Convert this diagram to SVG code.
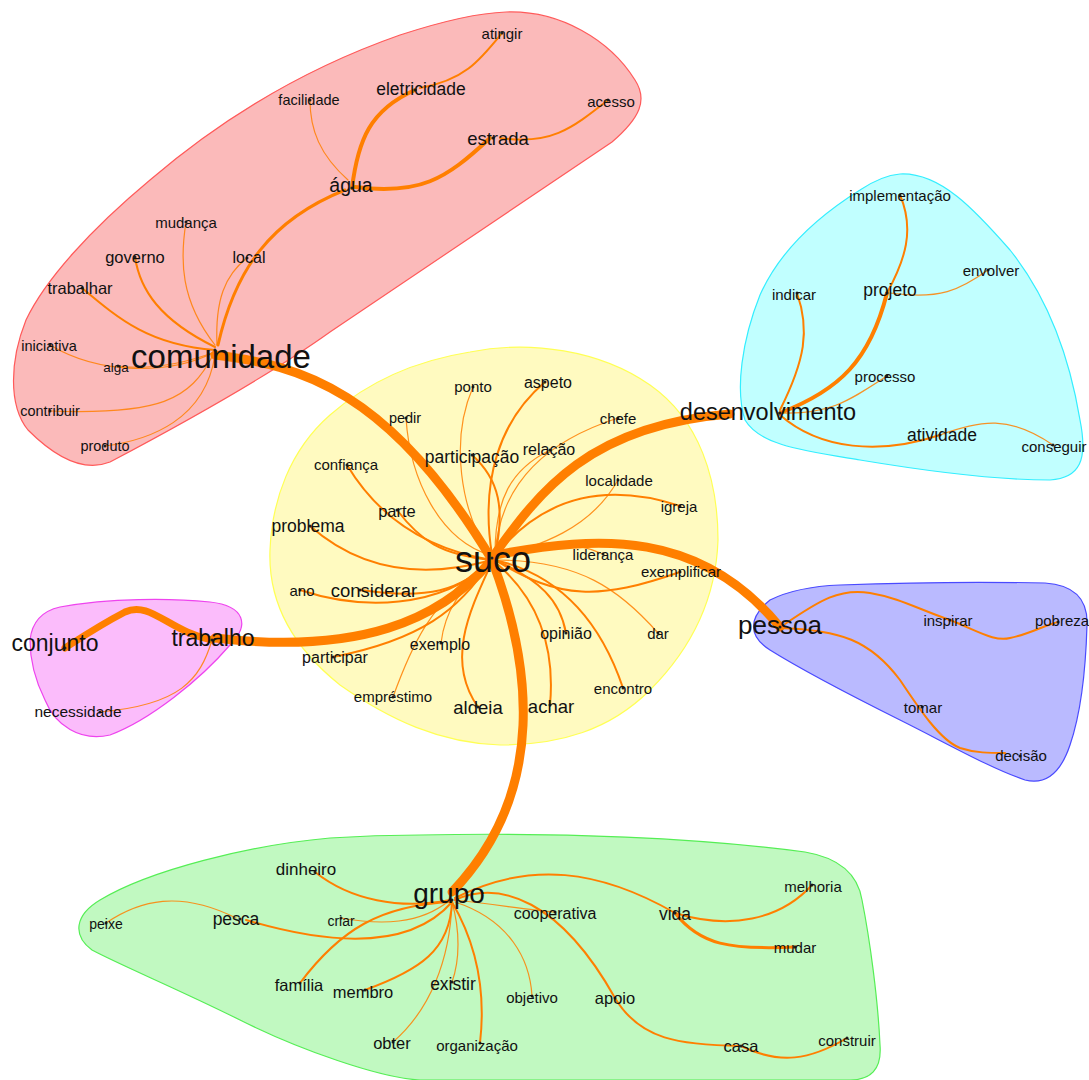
<svg xmlns="http://www.w3.org/2000/svg" width="1089" height="1080" viewBox="0 0 1089 1080">
<style>
text{font-family:"Liberation Sans",Arial,sans-serif;fill:#111;text-anchor:middle;dominant-baseline:central}
.e{fill:none;stroke:#ff7f00;stroke-linecap:round}
.w1{stroke-width:1.2;stroke-opacity:.85}
.w2{stroke-width:2}
.w3{stroke-width:3}
.w4{stroke-width:4}
.w9{stroke-width:9}
.d{fill:#222}
.blob{stroke-width:1.2}
</style>
<rect width="1089" height="1080" fill="#fff"/>
<g id="clusters">
<path class="blob" fill="#fbbaba" stroke="#ff5a5a" d="M506 12 C560 10 610 40 635 80 C648 100 640 118 612 142 L330 332 C270 375 180 425 110 462 C80 474 50 452 28 430 C8 405 10 360 26 320 C45 280 90 230 150 180 C220 120 300 70 400 35 C440 22 475 13 506 12 Z"/>
<path class="blob" fill="#fffac0" stroke="#ffff55" d="M470 352 C530 340 600 350 650 385 C700 420 718 480 718 540 C716 600 690 650 650 690 C610 730 560 745 500 745 C440 743 390 720 340 685 C290 645 268 600 270 550 C272 500 290 450 330 415 C370 380 420 360 470 352 Z"/>
<path class="blob" fill="#c1ffff" stroke="#33eeff" d="M900 174 C940 172 975 210 1010 250 C1050 300 1070 360 1080 420 C1088 460 1080 478 1050 480 C990 480 920 470 860 460 C800 450 760 445 745 420 C735 390 742 340 760 295 C780 250 820 215 860 190 C875 180 888 175 900 174 Z"/>
<path class="blob" fill="#babaff" stroke="#4a4aff" d="M840 585 C920 582 1000 582 1045 583 C1075 585 1088 600 1087 625 C1086 660 1082 710 1070 745 C1060 775 1045 785 1025 780 C990 768 950 745 900 720 C860 700 810 675 770 650 C748 636 748 618 770 600 C790 590 815 586 840 585 Z"/>
<path class="blob" fill="#fbbcfb" stroke="#ee44ee" d="M60 607 C110 598 170 598 210 602 C245 606 250 625 230 645 C200 680 150 720 110 735 C80 742 55 725 45 700 C35 680 30 660 30 640 C32 622 42 611 60 607 Z"/>
<path class="blob" fill="#c1f9c1" stroke="#55ee55" d="M420 835 C560 832 700 838 805 852 C840 858 858 875 862 900 C870 940 878 1000 880 1045 C882 1070 870 1080 850 1080 L420 1080 C380 1078 300 1050 240 1020 C180 990 120 965 92 950 C72 935 75 915 100 900 C150 870 250 845 330 838 C360 836 390 835 420 835 Z"/>
</g>
<g id="connectors">
<path class="e w9" d="M215 355 C300 365 390 390 492 560"/>
<path class="e w9" d="M492 558 C540 490 590 425 730 414"/>
<path class="e w9" d="M495 555 C600 535 700 530 780 627"/>
<path class="e w9" d="M492 560 C530 660 550 790 452 892"/>
<path class="e w9" d="M490 562 C440 620 360 655 215 638"/>
<path class="e" style="stroke-width:7" d="M212 640 C170 632 150 600 125 612 C100 625 85 635 65 648"/>
<path class="e w1" d="M212 640 C200 680 180 705 100 712"/>
<path class="e w3" d="M218 345 C235 270 270 220 345 190"/>
<path class="e w1" d="M217 345 C215 300 225 275 247 258"/>
<path class="e w4" d="M352 188 C358 140 370 110 415 90"/>
<path class="e w2" d="M420 88 C465 80 480 60 502 33"/>
<path class="e w4" d="M355 187 C420 195 445 180 490 138"/>
<path class="e w2" d="M500 138 C550 145 570 130 608 100"/>
<path class="e w1" d="M348 180 C320 155 310 130 310 100"/>
<path class="e w1" d="M215 345 C180 300 180 260 186 222"/>
<path class="e w2" d="M215 347 C160 320 140 290 135 257"/>
<path class="e w2" d="M215 350 C150 345 120 320 82 288"/>
<path class="e w1" d="M215 352 C170 375 100 375 50 345"/>
<path class="e w1" d="M215 352 C180 365 150 370 118 366"/>
<path class="e w1" d="M213 355 C190 400 160 415 50 411"/>
<path class="e w1" d="M215 355 C205 420 150 440 105 446"/>
<path class="e w1" d="M490 555 C440 540 410 480 406 418"/>
<path class="e w1" d="M490 555 C460 510 450 440 473 387"/>
<path class="e w2" d="M492 555 C480 480 500 420 545 382"/>
<path class="e w2" d="M495 555 C505 510 500 480 472 455"/>
<path class="e w1" d="M495 555 C495 500 510 470 550 450"/>
<path class="e w1" d="M495 555 C500 480 550 440 618 418"/>
<path class="e w2" d="M492 560 C430 550 380 520 347 465"/>
<path class="e w2" d="M492 560 C440 555 420 540 397 510"/>
<path class="e w2" d="M492 560 C420 580 360 570 310 526"/>
<path class="e w1" d="M495 558 C540 545 590 530 618 480"/>
<path class="e w2" d="M495 556 C540 500 600 480 680 506"/>
<path class="e w1" d="M495 558 C540 540 570 540 603 554"/>
<path class="e w2" d="M495 560 C560 600 600 600 680 572"/>
<path class="e w1" d="M495 560 C580 560 620 590 658 633"/>
<path class="e w2" d="M495 560 C560 575 600 620 623 688"/>
<path class="e w2" d="M495 560 C540 580 560 600 566 633"/>
<path class="e w2" d="M495 562 C540 600 555 650 550 705"/>
<path class="e w2" d="M492 562 C470 610 445 660 478 707"/>
<path class="e w1" d="M490 562 C430 600 410 650 393 697"/>
<path class="e w1" d="M490 562 C460 590 445 610 441 643"/>
<path class="e w2" d="M490 562 C460 610 420 640 333 657"/>
<path class="e w2" d="M490 562 C460 590 430 600 360 590"/>
<path class="e w2" d="M490 562 C440 610 360 610 300 590"/>
<path class="e w4" d="M780 413 C840 390 870 360 887 293"/>
<path class="e w2" d="M887 293 C905 260 915 230 900 195"/>
<path class="e w1" d="M890 293 C940 300 960 290 988 270"/>
<path class="e w2" d="M780 410 C805 360 810 330 797 293"/>
<path class="e w1" d="M780 413 C830 415 850 400 887 376"/>
<path class="e w2" d="M780 415 C820 450 880 455 940 435"/>
<path class="e w1" d="M940 435 C980 420 1010 415 1053 445"/>
<path class="e w2" d="M785 624 C820 600 840 588 870 593 C900 598 920 610 950 620"/>
<path class="e w2" d="M950 620 C980 632 995 642 1010 638 C1030 634 1045 625 1058 622"/>
<path class="e w2" d="M780 628 C840 630 870 640 900 680 C920 710 940 740 960 748 C975 753 990 753 1005 753"/>
<path class="e w2" d="M450 900 C400 910 350 900 315 872"/>
<path class="e w2" d="M452 902 C410 950 330 945 246 920"/>
<path class="e w1" d="M106 923 C140 900 180 890 236 918"/>
<path class="e w1" d="M450 900 C420 925 380 925 341 918"/>
<path class="e w2" d="M452 902 C380 905 340 930 300 983"/>
<path class="e w2" d="M452 902 C450 950 420 970 365 990"/>
<path class="e w1" d="M452 902 C450 960 430 1010 393 1042"/>
<path class="e w1" d="M452 902 C460 930 460 960 452 982"/>
<path class="e w2" d="M452 902 C480 950 485 1000 480 1043"/>
<path class="e w1" d="M455 902 C510 920 530 960 532 996"/>
<path class="e w1" d="M455 900 C500 905 530 910 555 912"/>
<path class="e w2" d="M455 900 C500 880 560 900 615 998"/>
<path class="e w2" d="M615 998 C640 1040 680 1045 741 1046"/>
<path class="e w2" d="M741 1046 C780 1065 810 1060 847 1038"/>
<path class="e w2" d="M455 898 C530 860 600 870 675 913"/>
<path class="e w2" d="M675 913 C730 930 780 920 812 885"/>
<path class="e w3" d="M675 913 C700 945 730 950 795 947"/>
</g>
<g id="n-comunidade"><circle class="d" cx="215" cy="350" r="1.5"/><text x="221" y="356" font-size="33">comunidade</text></g>
<g id="n-atingir"><circle class="d" cx="502" cy="33" r="1.5"/><text x="502" y="33" font-size="15">atingir</text></g>
<g id="n-eletricidade"><circle class="d" cx="415" cy="90" r="1.5"/><text x="421" y="89" font-size="17.5">eletricidade</text></g>
<g id="n-facilidade"><circle class="d" cx="310" cy="100" r="1.5"/><text x="309" y="100" font-size="14.5">facilidade</text></g>
<g id="n-acesso"><circle class="d" cx="608" cy="100" r="1.5"/><text x="611" y="101" font-size="15">acesso</text></g>
<g id="n-estrada"><circle class="d" cx="493" cy="138" r="1.5"/><text x="498" y="138" font-size="18.5">estrada</text></g>
<g id="n-agua"><circle class="d" cx="352" cy="188" r="1.5"/><text x="351" y="185" font-size="19.5">água</text></g>
<g id="n-mudanca"><circle class="d" cx="186" cy="222" r="1.5"/><text x="186" y="222" font-size="15">mudança</text></g>
<g id="n-governo"><circle class="d" cx="135" cy="257" r="1.5"/><text x="135" y="257" font-size="16.5">governo</text></g>
<g id="n-local"><circle class="d" cx="247" cy="258" r="1.5"/><text x="249" y="257" font-size="16">local</text></g>
<g id="n-trabalhar"><circle class="d" cx="82" cy="288" r="1.5"/><text x="80" y="288" font-size="16.5">trabalhar</text></g>
<g id="n-iniciativa"><circle class="d" cx="50" cy="345" r="1.5"/><text x="49" y="346" font-size="14.5">iniciativa</text></g>
<g id="n-alga"><circle class="d" cx="118" cy="366" r="1.5"/><text x="116" y="367" font-size="13.5">alga</text></g>
<g id="n-contribuir"><circle class="d" cx="50" cy="411" r="1.5"/><text x="50" y="411" font-size="14.5">contribuir</text></g>
<g id="n-produto"><circle class="d" cx="105" cy="446" r="1.5"/><text x="105" y="446" font-size="14.5">produto</text></g>
<g id="n-suco"><circle class="d" cx="492" cy="558" r="1.5"/><text x="493" y="559" font-size="36">suco</text></g>
<g id="n-ponto"><circle class="d" cx="473" cy="387" r="1.5"/><text x="473" y="386" font-size="15">ponto</text></g>
<g id="n-aspeto"><circle class="d" cx="545" cy="382" r="1.5"/><text x="548" y="382" font-size="16">aspeto</text></g>
<g id="n-pedir"><circle class="d" cx="406" cy="418" r="1.5"/><text x="405" y="418" font-size="14.5">pedir</text></g>
<g id="n-chefe"><circle class="d" cx="618" cy="418" r="1.5"/><text x="618" y="418" font-size="15">chefe</text></g>
<g id="n-participacao"><circle class="d" cx="472" cy="455" r="1.5"/><text x="472" y="457" font-size="17.5">participação</text></g>
<g id="n-relacao"><circle class="d" cx="550" cy="450" r="1.5"/><text x="549" y="449" font-size="16">relação</text></g>
<g id="n-confianca"><circle class="d" cx="347" cy="465" r="1.5"/><text x="346" y="464" font-size="15">confiança</text></g>
<g id="n-localidade"><circle class="d" cx="618" cy="480" r="1.5"/><text x="619" y="480" font-size="15">localidade</text></g>
<g id="n-parte"><circle class="d" cx="397" cy="510" r="1.5"/><text x="397" y="511" font-size="16.5">parte</text></g>
<g id="n-igreja"><circle class="d" cx="680" cy="506" r="1.5"/><text x="679" y="506" font-size="15">igreja</text></g>
<g id="n-problema"><circle class="d" cx="310" cy="526" r="1.5"/><text x="308" y="526" font-size="17.5">problema</text></g>
<g id="n-lideranca"><circle class="d" cx="603" cy="554" r="1.5"/><text x="603" y="554" font-size="15">liderança</text></g>
<g id="n-exemplificar"><circle class="d" cx="680" cy="572" r="1.5"/><text x="681" y="571" font-size="15">exemplificar</text></g>
<g id="n-ano"><circle class="d" cx="300" cy="590" r="1.5"/><text x="302" y="590" font-size="15">ano</text></g>
<g id="n-considerar"><circle class="d" cx="360" cy="590" r="1.5"/><text x="374" y="590" font-size="18.5">considerar</text></g>
<g id="n-exemplo"><circle class="d" cx="441" cy="643" r="1.5"/><text x="440" y="644" font-size="16">exemplo</text></g>
<g id="n-opiniao"><circle class="d" cx="566" cy="633" r="1.5"/><text x="566" y="633" font-size="16">opinião</text></g>
<g id="n-dar"><circle class="d" cx="658" cy="633" r="1.5"/><text x="658" y="633" font-size="15">dar</text></g>
<g id="n-participar"><circle class="d" cx="333" cy="657" r="1.5"/><text x="335" y="657" font-size="16">participar</text></g>
<g id="n-emprestimo"><circle class="d" cx="393" cy="697" r="1.5"/><text x="393" y="696" font-size="15">empréstimo</text></g>
<g id="n-aldeia"><circle class="d" cx="478" cy="707" r="1.5"/><text x="478" y="707" font-size="18.5">aldeia</text></g>
<g id="n-achar"><circle class="d" cx="550" cy="705" r="1.5"/><text x="551" y="706" font-size="18.5">achar</text></g>
<g id="n-encontro"><circle class="d" cx="623" cy="688" r="1.5"/><text x="623" y="688" font-size="15">encontro</text></g>
<g id="n-desenvolvimento"><circle class="d" cx="780" cy="413" r="1.5"/><text x="768" y="412" font-size="23.5">desenvolvimento</text></g>
<g id="n-implementacao"><circle class="d" cx="900" cy="195" r="1.5"/><text x="900" y="195" font-size="15">implementação</text></g>
<g id="n-envolver"><circle class="d" cx="988" cy="270" r="1.5"/><text x="991" y="270" font-size="15">envolver</text></g>
<g id="n-indicar"><circle class="d" cx="797" cy="293" r="1.5"/><text x="794" y="294" font-size="15">indicar</text></g>
<g id="n-projeto"><circle class="d" cx="887" cy="293" r="1.5"/><text x="890" y="290" font-size="17.5">projeto</text></g>
<g id="n-processo"><circle class="d" cx="887" cy="376" r="1.5"/><text x="885" y="376" font-size="15">processo</text></g>
<g id="n-atividade"><circle class="d" cx="940" cy="435" r="1.5"/><text x="942" y="435" font-size="17.5">atividade</text></g>
<g id="n-conseguir"><circle class="d" cx="1053" cy="445" r="1.5"/><text x="1054" y="446" font-size="15">conseguir</text></g>
<g id="n-pessoa"><circle class="d" cx="780" cy="627" r="1.5"/><text x="780" y="625" font-size="26">pessoa</text></g>
<g id="n-inspirar"><circle class="d" cx="950" cy="620" r="1.5"/><text x="948" y="620" font-size="15">inspirar</text></g>
<g id="n-pobreza"><circle class="d" cx="1058" cy="622" r="1.5"/><text x="1062" y="620" font-size="15">pobreza</text></g>
<g id="n-tomar"><circle class="d" cx="922" cy="707" r="1.5"/><text x="923" y="707" font-size="15">tomar</text></g>
<g id="n-decisao"><circle class="d" cx="1020" cy="756" r="1.5"/><text x="1021" y="755" font-size="15">decisão</text></g>
<g id="n-conjunto"><circle class="d" cx="65" cy="648" r="1.5"/><text x="55" y="643" font-size="23">conjunto</text></g>
<g id="n-trabalho"><circle class="d" cx="212" cy="640" r="1.5"/><text x="213" y="638" font-size="23">trabalho</text></g>
<g id="n-necessidade"><circle class="d" cx="100" cy="712" r="1.5"/><text x="78" y="711" font-size="15.5">necessidade</text></g>
<g id="n-grupo"><circle class="d" cx="452" cy="900" r="1.5"/><text x="449" y="893" font-size="28">grupo</text></g>
<g id="n-dinheiro"><circle class="d" cx="315" cy="872" r="1.5"/><text x="306" y="869" font-size="17">dinheiro</text></g>
<g id="n-melhoria"><circle class="d" cx="812" cy="885" r="1.5"/><text x="813" y="886" font-size="15">melhoria</text></g>
<g id="n-peixe"><circle class="d" cx="106" cy="923" r="1.5"/><text x="106" y="924" font-size="14">peixe</text></g>
<g id="n-pesca"><circle class="d" cx="240" cy="919" r="1.5"/><text x="236" y="919" font-size="17.5">pesca</text></g>
<g id="n-criar"><circle class="d" cx="341" cy="918" r="1.5"/><text x="341" y="921" font-size="14">criar</text></g>
<g id="n-cooperativa"><circle class="d" cx="555" cy="912" r="1.5"/><text x="555" y="913" font-size="16">cooperativa</text></g>
<g id="n-vida"><circle class="d" cx="675" cy="913" r="1.5"/><text x="675" y="914" font-size="17.5">vida</text></g>
<g id="n-mudar"><circle class="d" cx="795" cy="947" r="1.5"/><text x="795" y="947" font-size="15">mudar</text></g>
<g id="n-familia"><circle class="d" cx="300" cy="983" r="1.5"/><text x="299" y="985" font-size="16.5">família</text></g>
<g id="n-membro"><circle class="d" cx="365" cy="990" r="1.5"/><text x="363" y="992" font-size="16.5">membro</text></g>
<g id="n-existir"><circle class="d" cx="452" cy="982" r="1.5"/><text x="453" y="984" font-size="17.5">existir</text></g>
<g id="n-objetivo"><circle class="d" cx="532" cy="996" r="1.5"/><text x="532" y="997" font-size="15">objetivo</text></g>
<g id="n-apoio"><circle class="d" cx="615" cy="998" r="1.5"/><text x="615" y="998" font-size="16.5">apoio</text></g>
<g id="n-obter"><circle class="d" cx="393" cy="1042" r="1.5"/><text x="392" y="1043" font-size="16.5">obter</text></g>
<g id="n-organizacao"><circle class="d" cx="480" cy="1043" r="1.5"/><text x="477" y="1045" font-size="15">organização</text></g>
<g id="n-casa"><circle class="d" cx="741" cy="1046" r="1.5"/><text x="741" y="1046" font-size="16.5">casa</text></g>
<g id="n-construir"><circle class="d" cx="847" cy="1038" r="1.5"/><text x="847" y="1040" font-size="15">construir</text></g>
</svg>
